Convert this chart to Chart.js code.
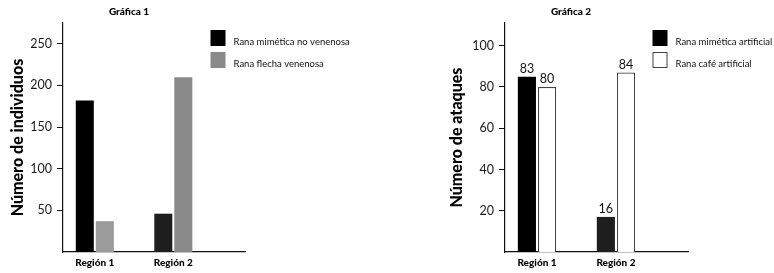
<!DOCTYPE html>
<html lang="es">
<head>
<meta charset="UTF-8" />
<title>Gráficas 1 y 2 – ranas</title>
<script src="https://cdn.jsdelivr.net/npm/chart.js@4.4.0/dist/chart.umd.min.js"></script>
<style>
*{margin:0;padding:0;box-sizing:border-box}
body{width:774px;height:273px;background:#fff;overflow:hidden;position:relative}
#c1{position:absolute;left:0;top:0}
#c2{position:absolute;left:442px;top:0}
</style>
</head>
<body>
<canvas id="c1" width="442" height="273"></canvas>
<canvas id="c2" width="332" height="273"></canvas>

<script>
/* ---------- datos ---------- */
const REGIONES = ['Región 1','Región 2'];
const POS = [1,2];

// Gráfica 1: número de individuos
const noVenenosa = [182, 46];
const venenosa   = [37, 210];
const TICKS1 = [50,100,150,200,250];

// Gráfica 2: número de ataques (altura dibujada y número impreso)
const mimArtificial  = [85, 17];
const cafeArtificial = [80, 87];
const mimEtiqueta    = [83, 16];
const cafeEtiqueta   = [80, 84];
const TICKS2 = [20,40,60,80,100];

const FONT = 'Lato, "Open Sans", sans-serif';

/* ---------- plugin: título, leyenda y números ---------- */
const decor = {
  id:'decor',
  afterDraw(chart, args, o){
    const ctx = chart.ctx;
    ctx.save();
    ctx.fillStyle = '#000';
    ctx.font = `900 10px ${FONT}`;
    ctx.textAlign = 'center'; ctx.textBaseline = 'middle';
    ctx.fillText(o.title, 129, 12);

    ctx.textAlign = 'left';
    ctx.font = `9.5px ${FONT}`;
    chart.data.datasets.forEach((ds,i)=>{
      const y = 30 + i*22;
      ctx.fillStyle = o.legendFill[i];
      ctx.fillRect(210.5, y, 15, 16);
      if (o.legendStroke[i]) {
        ctx.strokeStyle = o.legendStroke[i]; ctx.lineWidth = 1;
        ctx.strokeRect(211, y+0.5, 14, 15);
      }
      ctx.fillStyle = '#111';
      ctx.fillText(ds.label, 233.5, y + 12);
    });

    if (o.valueLabels) {
      ctx.font = `12.5px ${FONT}`;
      ctx.textAlign = 'center'; ctx.textBaseline = 'bottom';
      ctx.fillStyle = '#111';
      o.valueLabels.forEach((arr,di)=>{
        chart.getDatasetMeta(di).data.forEach((bar,j)=>{
          ctx.fillText(arr[j], bar.x, bar.y - 1.5);
        });
      });
    }
    ctx.restore();
  }
};

function pts(arr){ return POS.map((x,i)=>({x, y:arr[i]})); }

function makeChart(id, datasets, yTitle, yMax, yTicks, titlePad, rightPad, deco){
  return new Chart(document.getElementById(id), {
    type:'bar',
    data:{datasets},
    plugins:[decor],
    options:{
      responsive:false, animation:false,
      layout:{padding:{top:23, left:0, right:rightPad, bottom:0}},
      categoryPercentage:0.51, barPercentage:0.9,
      plugins:{legend:{display:false}, tooltip:{enabled:false}, title:{display:false}, decor:deco},
      scales:{
        x:{
          type:'linear', min:0.595, max:2.913, offset:false,
          afterBuildTicks:s=>{ s.ticks = POS.map(v=>({value:v})); },
          afterFit:s=>{ s.height = 21; },
          grid:{display:false, drawTicks:false},
          border:{display:true, color:'#111', width:1.2},
          ticks:{padding:5, color:'#000', font:{family:FONT, size:10, weight:'900'},
                 callback:(v,i)=>REGIONES[i]}
        },
        y:{
          min:0, max:yMax,
          afterBuildTicks:s=>{ s.ticks = yTicks.map(v=>({value:v})); },
          afterFit:s=>{ s.width = 63; },
          grid:{display:true, drawOnChartArea:false, drawTicks:true, tickLength:6, color:'#111', lineWidth:1},
          border:{display:true, color:'#111', width:1.2},
          ticks:{padding:5, color:'#1a1a1a', font:{family:FONT, size:12.5}},
          title:{display:true, text:yTitle, color:'#000', padding:{top:titlePad, bottom:0},
                 font:{family:FONT, size:16, weight:'900'}}
        }
      }
    }
  });
}

makeChart('c1', [
  {label:'Rana mimética no venenosa', data:pts(noVenenosa), backgroundColor:['#000','#1e1e1e'], borderWidth:0},
  {label:'Rana flecha venenosa', data:pts(venenosa), backgroundColor:['#9b9b9b','#898989'], borderWidth:0}
], 'Número de individuos', 275, TICKS1, 8.4, 197,
{title:'Gráfica 1', legendFill:['#000','#898989'], legendStroke:[null,null]});

makeChart('c2', [
  {label:'Rana mimética artificial', data:pts(mimArtificial), backgroundColor:['#000','#1e1e1e'], borderWidth:0},
  {label:'Rana café artificial', data:pts(cafeArtificial), backgroundColor:'#fff', borderColor:'#444', borderWidth:1.2}
], 'Número de ataques', 111, TICKS2, 5, 86,
{title:'Gráfica 2', legendFill:['#000','#fff'], legendStroke:[null,'#444'],
 valueLabels:[mimEtiqueta, cafeEtiqueta]});
</script>
</body>
</html>
